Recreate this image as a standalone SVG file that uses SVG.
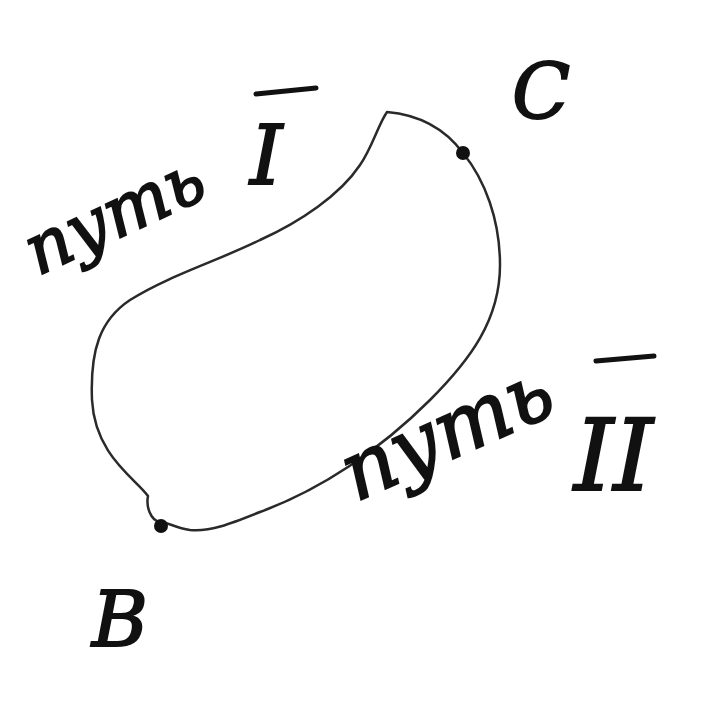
<svg xmlns="http://www.w3.org/2000/svg" width="714" height="701" viewBox="0 0 714 701">
<style>
.hand{font-family:"DejaVu Serif","Liberation Serif",serif;font-style:italic;fill:#111;stroke:#111;stroke-width:2;}
.bar{stroke:#111;stroke-width:5;stroke-linecap:round;fill:none;}
.loop{fill:none;stroke:#2a2a2a;stroke-width:2.5;stroke-linejoin:round;}
.dot{fill:#111;}
</style>
<rect width="714" height="701" fill="#ffffff"/>
<g id="connectors">
<path id="loop" class="loop" d="M387,112 C410,114 440,122 463,153 C485,180 500,220 500,265 C500,320 470,360 430,400 C380,450 320,490 260,512 C230,524 210,532 190,530 C175,528 168,522 160,522 C150,520 146,506 148,496 C135,478 95,455 92,400 C90,350 100,320 130,300 C170,275 220,260 260,240 C300,222 340,195 360,165 C372,148 378,125 387,112 Z"/>
</g>
<g id="node-C">
<circle class="dot" cx="463" cy="153" r="7"/>
<text class="hand" x="512" y="118" font-size="76">C</text>
</g>
<g id="node-B">
<circle class="dot" cx="161" cy="526" r="7"/>
<text class="hand" x="92" y="646" font-size="76">B</text>
</g>
<g id="label-path1">
<text class="hand" font-size="70" transform="translate(38,276) rotate(-25)">путь</text>
<text class="hand" x="250" y="184" font-size="82">I</text>
<line class="bar" x1="256" y1="94" x2="316" y2="88"/>
</g>
<g id="label-path2">
<text class="hand" font-size="82" transform="translate(356,502) rotate(-24)">путь</text>
<text class="hand" x="574" y="490" font-size="100">II</text>
<line class="bar" x1="596" y1="361" x2="654" y2="356"/>
</g>
</svg>
